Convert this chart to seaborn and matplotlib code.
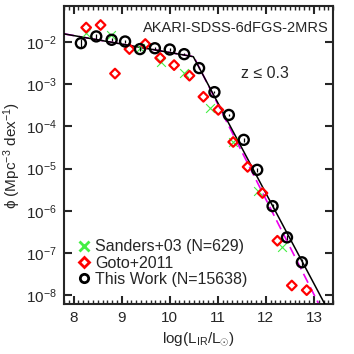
import matplotlib
matplotlib.use("Agg")
import matplotlib.pyplot as plt
from matplotlib.lines import Line2D
from matplotlib.ticker import MultipleLocator, NullLocator
import numpy as np
import seaborn as sns

# ---- data (log10 L_IR/L_sun, log10 phi) ----
work_logL = [8.15, 8.47, 8.79, 9.07, 9.38, 9.69, 10.00, 10.30, 10.61, 10.93, 11.23, 11.54, 11.82, 12.14, 12.44, 12.75]
work_logphi = [-2.03, -1.87, -1.95, -1.99, -2.17, -2.15, -2.18, -2.29, -2.62, -3.19, -3.73, -4.32, -5.03, -5.89, -6.63, -7.22]
work_err = [0.10, 0.05, 0.04, 0.04, 0.04, 0.04, 0.03, 0.03, 0.03, 0.03, 0.03, 0.04, 0.05, 0.05, 0.06, 0.08]

goto_logL = [8.26, 8.56, 8.86, 9.16, 9.49, 9.80, 10.09, 10.41, 10.70, 11.01, 11.32, 11.62, 11.93, 12.24, 12.54, 12.85]
goto_logphi = [-1.66, -1.60, -2.75, -2.17, -2.05, -2.38, -2.55, -2.80, -3.30, -3.61, -4.37, -4.96, -5.58, -6.71, -7.77, -7.88]

sanders_logL = [8.26, 8.78, 9.38, 9.82, 10.30, 10.83, 11.31, 11.83, 12.34]
sanders_logphi = [-1.79, -1.83, -2.15, -2.47, -2.74, -3.56, -4.37, -5.52, -6.85]

# double power-law fits, given by their vertices
fit_work_logL = [7.80, 10.49, 13.40]
fit_work_logphi = [-1.81, -2.35, -8.58]
fit_goto_logL = [7.80, 10.50, 13.40]
fit_goto_logphi = [-1.81, -2.35, -8.88]

ytick_exp = [-8, -7, -6, -5, -4, -3, -2]
labels = ["Sanders+03 (N=629)", "Goto+2011", "This Work (N=15638)"]

#%%
sns.set_style("ticks")
plt.rcParams['font.family'] = ['Liberation Sans', 'DejaVu Sans']
plt.rcParams['mathtext.fontset'] = 'custom'
plt.rcParams['mathtext.rm'] = 'Liberation Sans'
plt.rcParams['mathtext.it'] = 'Liberation Sans'

fig = plt.figure(figsize=(3.54, 3.54), dpi=100)
ax = fig.add_axes([0.181, 0.141, 0.760, 0.842])

red = '#ff0000'
green = '#44ee44'
magenta = '#ee00ee'

sns.lineplot(x=fit_goto_logL, y=10**np.array(fit_goto_logphi), ax=ax, color=magenta,
             lw=1.2, estimator=None, sort=False, zorder=2)
ax.lines[-1].set_linestyle((0, (6, 3)))
sns.lineplot(x=fit_work_logL, y=10**np.array(fit_work_logphi), ax=ax, color='k',
             lw=1.1, estimator=None, sort=False, zorder=3)

sns.scatterplot(x=sanders_logL, y=10**np.array(sanders_logphi), ax=ax, marker='x',
                color=green, s=40, linewidth=0.8, zorder=4)
sns.scatterplot(x=goto_logL, y=10**np.array(goto_logphi), ax=ax, marker='D',
                facecolor='none', edgecolor=red, s=24, linewidth=1.6, zorder=5)
wphi = 10**np.array(work_logphi)
werr = np.array(work_err)
ax.errorbar(work_logL, wphi, yerr=[wphi - wphi*10**(-werr), wphi*10**werr - wphi],
            fmt='none', ecolor='k', elinewidth=0.9, capsize=0, zorder=6)
sns.scatterplot(x=work_logL, y=wphi, ax=ax, marker='o',
                facecolor='none', edgecolor='k', s=52, linewidth=1.7, zorder=6)

ax.set_yscale('log')
ax.set_xlim(7.8, 13.4)
ax.set_ylim(10**-8.21, 10**-1.15)
ax.xaxis.set_major_locator(MultipleLocator(1))
ax.xaxis.set_minor_locator(MultipleLocator(0.1))
ax.set_yticks([10.0**e for e in ytick_exp])
ax.set_yticklabels([r'$10^{%d}$' % e for e in ytick_exp])
ax.yaxis.set_minor_locator(NullLocator())

ax.tick_params(axis='both', which='major', direction='in', top=True, right=True,
               length=6, width=1.5, labelsize=11, pad=5)
ax.tick_params(axis='x', which='minor', direction='in', top=True, bottom=True,
               length=3, width=1.0)
for sp in ax.spines.values():
    sp.set_linewidth(1.5)

ax.set_xlabel(r'log(L$_{\rm IR}$/L$_{\odot}$)', fontsize=11, labelpad=4)
ax.set_ylabel(r'$\phi$ (Mpc$^{-3}$ dex$^{-1}$)', fontsize=11, labelpad=2)

ax.text(0.985, 0.925, 'AKARI-SDSS-6dFGS-2MRS', transform=ax.transAxes,
        ha='right', va='center', fontsize=10.5)
ax.text(0.745, 0.775, 'z \u2264 0.3', transform=ax.transAxes,
        ha='center', va='center', fontsize=11.5)

handles = [
    Line2D([], [], ls='none', marker='x', color=green, markersize=7, markeredgewidth=2),
    Line2D([], [], ls='none', marker='D', markerfacecolor='none', markeredgecolor=red,
           markersize=5, markeredgewidth=2),
    Line2D([], [], ls='none', marker='o', markerfacecolor='none', markeredgecolor='k',
           markersize=6, markeredgewidth=2),
]
ax.legend(handles, labels, loc='lower left', bbox_to_anchor=(0.02, 0.025),
          frameon=False, fontsize=11.5, handlelength=0.6, handletextpad=0.4,
          labelspacing=0.08, borderaxespad=0.2)

fig.savefig('out.png', dpi=100)
